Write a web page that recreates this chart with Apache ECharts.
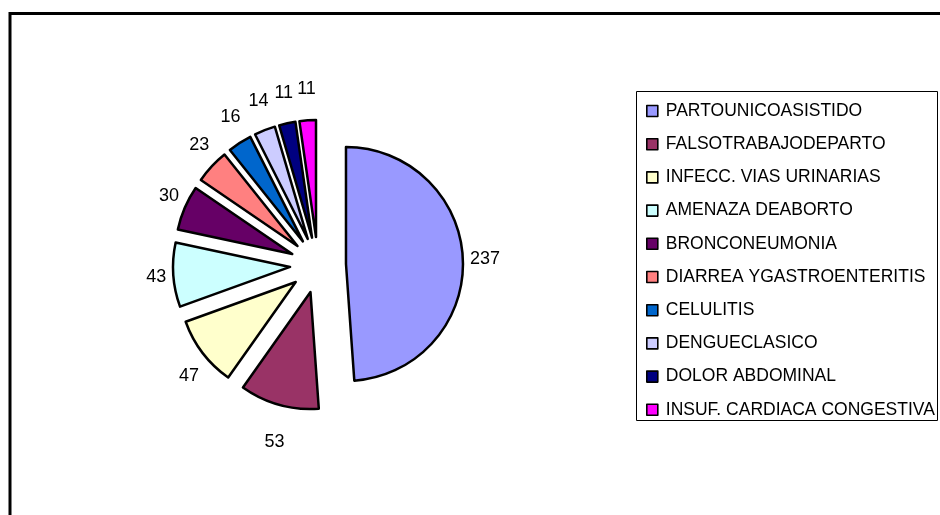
<!DOCTYPE html>
<html>
<head>
<meta charset="utf-8">
<title>Diagnosticos</title>
<script src="https://cdn.jsdelivr.net/npm/echarts@6/dist/echarts.min.js"></script>
<style>
  html, body { margin: 0; padding: 0; background: #fff; }
  #main { width: 940px; height: 515px; }
</style>
</head>
<body>
<div id="main"></div>
<script>
// datos
var categorias = [
  "PARTOUNICOASISTIDO",
  "FALSOTRABAJODEPARTO",
  "INFECC. VIAS URINARIAS",
  "AMENAZA DEABORTO",
  "BRONCONEUMONIA",
  "DIARREA YGASTROENTERITIS",
  "CELULITIS",
  "DENGUECLASICO",
  "DOLOR ABDOMINAL",
  "INSUF. CARDIACA CONGESTIVA"
];
var casos = [237, 53, 47, 43, 30, 23, 16, 14, 11, 11];
var colores = ["#9999FF", "#993366", "#FFFFCC", "#CCFFFF", "#660066",
               "#FF8080", "#0066CC", "#CCCCFF", "#000080", "#FF00FF"];

var fuente = "Arial, 'Liberation Sans', sans-serif";

// angulo medio de cada porcion (horario desde arriba), para ubicar las etiquetas como excel
var total = casos.reduce(function (a, b) { return a + b; }, 0);
var acumulado = 0;
var angMedio = casos.map(function (v) {
  var a = (acumulado + v / 2) / total * 2 * Math.PI;
  acumulado += v;
  return a;
});

var myChart = echarts.init(document.getElementById("main"));

var datos = categorias.map(function (nombre, i) {
  return {
    name: nombre,
    value: casos[i],
    selected: true, // todas las porciones separadas
    itemStyle: { color: colores[i] }
  };
});

var option = {
  animation: false,
  backgroundColor: "#fff",
  graphic: [
    {
      // marco del grafico (se sale por la derecha y abajo)
      type: "polyline",
      shape: { points: [[10, 600], [10, 13.5], [960, 13.5]] },
      style: { stroke: "#000", lineWidth: 3, fill: null }
    },
    {
      // caja de la leyenda
      type: "rect",
      shape: { x: 636.5, y: 91.5, width: 301, height: 329 },
      style: { stroke: "#000", lineWidth: 1, fill: "#fff" },
      z: -1
    }
  ],
  legend: {
    orient: "vertical",
    left: 646,
    top: 101,
    padding: 0,
    itemGap: 13.2,
    itemWidth: 11,
    itemHeight: 11,
    icon: "rect",
    selectedMode: false,
    itemStyle: { borderColor: "#000", borderWidth: 1.6 },
    textStyle: {
      color: "#000",
      fontSize: 17.5,
      lineHeight: 20,
      fontFamily: fuente,
      padding: [0, 0, 0, 3]
    },
    data: categorias
  },
  series: [
    {
      type: "pie",
      center: [318, 265],
      radius: [0, 117],
      startAngle: 90,
      clockwise: true,
      selectedMode: "multiple",
      selectedOffset: 28,
      avoidLabelOverlap: false,
      itemStyle: { borderColor: "#000", borderWidth: 2.5 },
      label: {
        show: true,
        position: "outside",
        formatter: "{c}",
        color: "#000",
        fontSize: 18,
        fontFamily: fuente,
        distanceToLabelLine: 0
      },
      labelLine: { show: false, length: 0, length2: 0 },
      labelLayout: function (params) {
        var t = angMedio[params.dataIndex];
        var s = Math.sin(t), c = Math.cos(t);
        var w = params.labelRect.width, h = params.labelRect.height;
        var lado = s < 0 ? -1 : 1;
        var sep = c < 0 ? 30 : 22; // excel deja las de abajo un poco mas lejos
        return {
          dx: s * (7 + w / 2) - lado * w / 2,
          dy: -c * (sep + h / 2)
        };
      },
      emphasis: { disabled: true },
      data: datos
    }
  ]
};

option && myChart.setOption(option);
</script>
</body>
</html>
